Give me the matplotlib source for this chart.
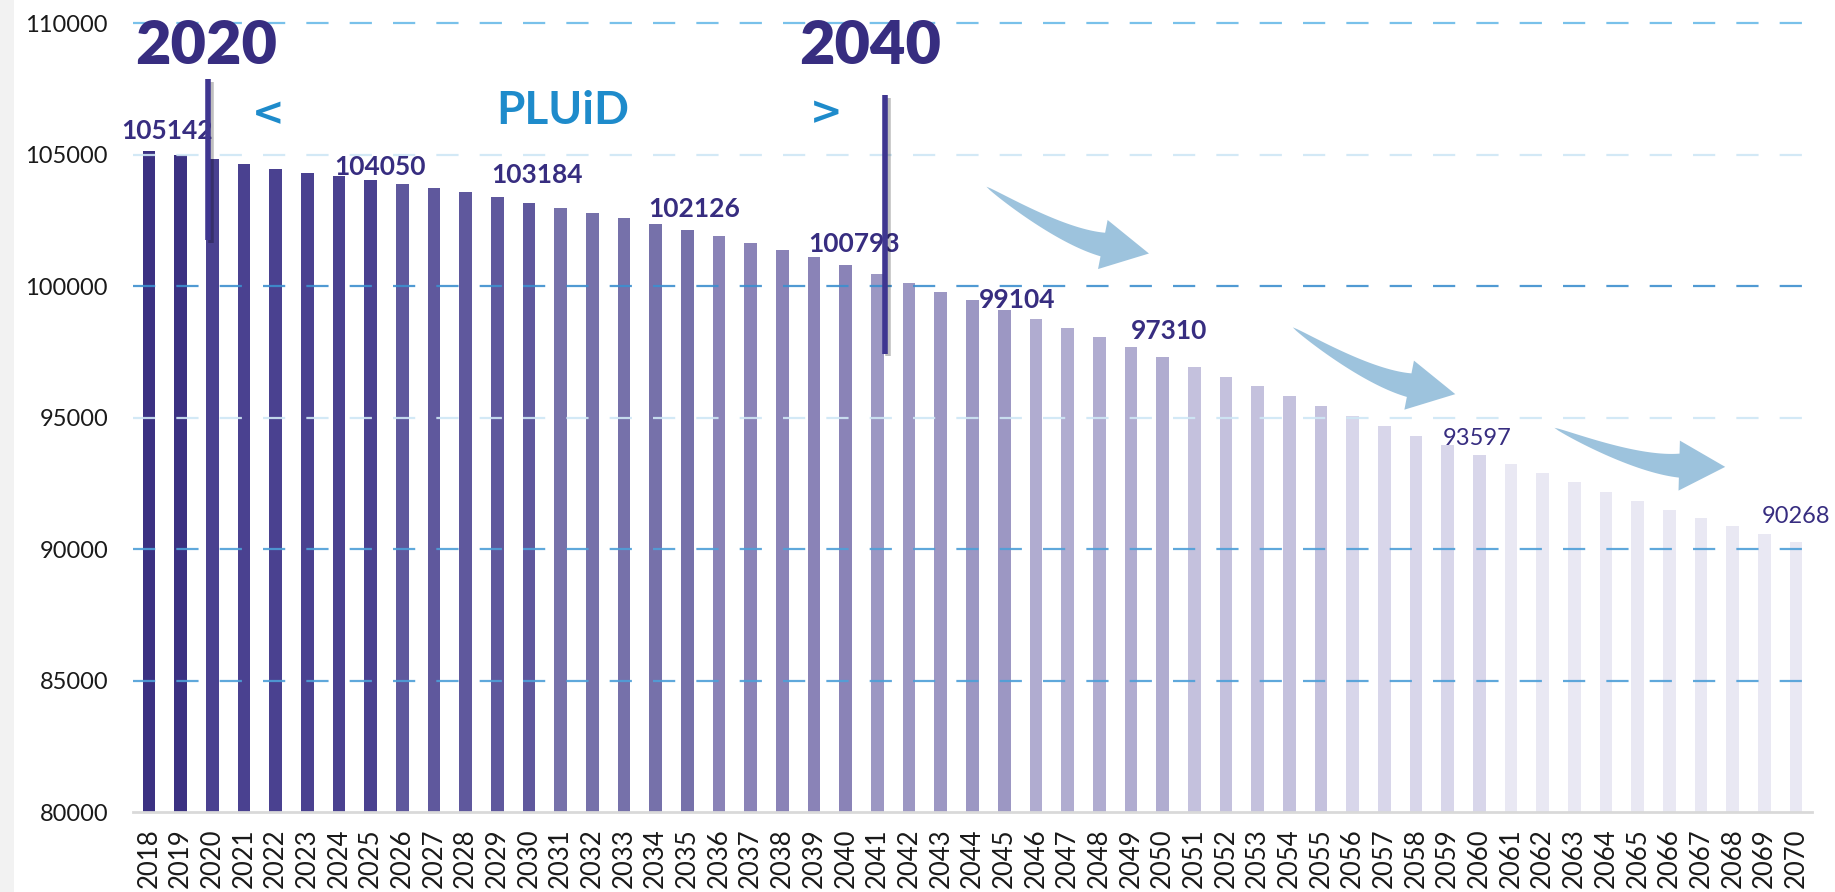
import numpy as np
import matplotlib
matplotlib.use("Agg")
import matplotlib.pyplot as plt
from matplotlib.patches import Polygon, Rectangle
import matplotlib.patheffects as pe

plt.rcParams['font.family'] = ['Lato', 'DejaVu Sans']

# population projection, one value per year
years = list(range(2018, 2071))
population = [
    105142, 105010, 104850, 104660, 104450, 104320, 104180, 104050,
    103890, 103740, 103580, 103390, 103184, 102990, 102790, 102590,
    102360, 102126, 101900, 101660, 101390, 101110, 100793, 100470,
    100130, 99800, 99460, 99104, 98760, 98410, 98060, 97680,
    97310, 96940, 96560, 96190, 95830, 95440, 95070, 94690,
    94310, 93950, 93597, 93230, 92880, 92545, 92175, 91850,
    91505, 91175, 90870, 90560, 90268,
]

# bars are shaded by period (first year of each period)
period_start = [2018, 2020, 2026, 2031, 2036, 2041, 2046, 2051, 2056, 2061]
period_color = ['#3b3182', '#4a4190', '#5f589d', '#7671aa', '#8a83b7',
                '#9c97c3', '#b0acd0', '#c4c1dd', '#d8d6ea', '#e9e8f3']

labelled_years = [2018, 2025, 2030, 2035, 2040, 2045, 2050, 2060, 2070]

y_ticks = [80000, 85000, 90000, 95000, 100000, 105000, 110000]
grid_colors = [None, '#4e9fd8', '#4e9fd8', '#cfe7f5', '#3d8fcf', '#cfe7f5', '#6bbbe8']

DARK = '#372d80'
BLUE = '#1e8bcb'
ARROW = '#9dc3dd'


def bar_color(year):
    c = period_color[0]
    for s, col in zip(period_start, period_color):
        if year >= s:
            c = col
    return c


def curved_arrow(ax, tail, tip, bend=0.12, shaft_w=24, head_w=50, head_len=47):
    """tapered curved arrow; tail/tip in data coords, sizes in pixels"""
    to_px = ax.transData
    p0 = np.array(to_px.transform(tail))
    p2 = np.array(to_px.transform(tip))
    d = p2 - p0
    L = np.hypot(*d)
    n = np.array([d[1], -d[0]]) / L          # points below the chord
    ctrl = (p0 + p2) / 2 + bend * L * n
    u = (p2 - ctrl) / np.hypot(*(p2 - ctrl))
    base = p2 - head_len * u
    t = np.linspace(0, 1, 40)[:, None]
    q = (1 - t) ** 2 * p0 + 2 * (1 - t) * t * ctrl + t ** 2 * base
    tan = 2 * (1 - t) * (ctrl - p0) + 2 * t * (base - ctrl)
    tan = tan / np.hypot(tan[:, 0], tan[:, 1])[:, None]
    nrm = np.column_stack([-tan[:, 1], tan[:, 0]])
    w = shaft_w * t ** 0.7 / 2
    upper = q + nrm * w
    lower = q - nrm * w
    un = np.array([-u[1], u[0]])
    head = [base + un * head_w / 2, p2, base - un * head_w / 2]
    pts = np.vstack([upper, head, lower[::-1]])
    pts = to_px.inverted().transform(pts)
    ax.add_patch(Polygon(pts, closed=True, facecolor=ARROW, edgecolor='none', zorder=4))


fig = plt.figure(figsize=(18.35, 8.92), dpi=100)
fig.patches.append(Rectangle((0, 0), 14 / 1835, 1, transform=fig.transFigure,
                             facecolor='#f2f2f2', edgecolor='none'))
ax = fig.add_axes([133 / 1835, 1 - 812 / 892, 1679 / 1835, 788.6 / 892])

x = np.arange(len(years))
ax.bar(x, population, width=0.4, color=[bar_color(y) for y in years], zorder=2)

ax.set_xlim(-0.5, len(years) - 0.5)
ax.set_ylim(80000, 110000)
ax.set_yticks(y_ticks)
ax.set_yticklabels([str(v) for v in y_ticks], fontsize=17, color='#1a1a1a')
ax.set_xticks(x)
ax.set_xticklabels([str(y) for y in years], rotation=90, fontsize=18.5, color='#1a1a1a')
ax.tick_params(axis='both', length=0)
ax.tick_params(axis='y', pad=18)
ax.tick_params(axis='x', pad=12)

for s in ['top', 'right', 'left']:
    ax.spines[s].set_visible(False)
ax.spines['bottom'].set_color('#d9d9d9')
ax.spines['bottom'].set_linewidth(2)

for v, c in zip(y_ticks, grid_colors):
    if c is None:
        continue
    ln = ax.axhline(v, color=c, lw=1.6, zorder=3, alpha=0.9, clip_on=False)
    ln.set_dashes([10, 9.5])

# value labels (placed by hand like in the original)
label_pos = {
    2018: (0.57, 105896, 19, 'bold'),
    2025: (7.30, 104535, 19, 'bold'),
    2030: (12.26, 104219, 19, 'bold'),
    2035: (17.20, 102923, 19, 'bold'),
    2040: (22.25, 101589, 19, 'bold'),
    2045: (27.40, 99493, 19, 'bold'),
    2050: (32.20, 98312, 19, 'bold'),
    2060: (41.94, 94196, 17, 'normal'),
    2070: (52.00, 91223, 17, 'normal'),
}
for yr in labelled_years:
    px, py, fs, fw = label_pos[yr]
    ax.text(px, py, str(population[years.index(yr)]), ha='center', va='center',
            fontsize=fs, fontweight=fw, color=DARK, zorder=5, clip_on=False)

# PLUiD period markers
ax.text(1.81, 109154, '2020', ha='center', va='center', fontsize=44,
        fontweight='heavy', color=DARK, zorder=6, clip_on=False)
ax.text(22.77, 109154, '2040', ha='center', va='center', fontsize=44,
        fontweight='heavy', color=DARK, zorder=6, clip_on=False)
shadow = [pe.SimpleLineShadow(offset=(2, -2), alpha=0.25), pe.Normal()]
ax.plot([1.86, 1.86], [101742, 107877], color='#3f3690', lw=4, zorder=6,
        path_effects=shadow, solid_capstyle='butt')
ax.plot([23.25, 23.25], [97435, 107279], color='#3f3690', lw=4, zorder=6,
        path_effects=shadow, solid_capstyle='butt')
ax.text(13.07, 106677, 'PLUiD', ha='center', va='center', fontsize=33,
        fontweight='bold', color=BLUE, zorder=6)
ax.text(3.75, 106562, '<', ha='center', va='center', fontsize=28,
        fontweight='bold', color=BLUE, zorder=6, family='DejaVu Sans')
ax.text(21.37, 106582, '>', ha='center', va='center', fontsize=28,
        fontweight='bold', color=BLUE, zorder=6, family='DejaVu Sans')

# trend arrows
curved_arrow(ax, (26.44, 103788), (31.57, 101246), bend=0.10)
curved_arrow(ax, (36.11, 98437), (41.24, 95896), bend=0.10)
curved_arrow(ax, (44.37, 94615), (49.76, 93129), bend=0.10, head_len=46)

fig.savefig('out.png', dpi=100)
